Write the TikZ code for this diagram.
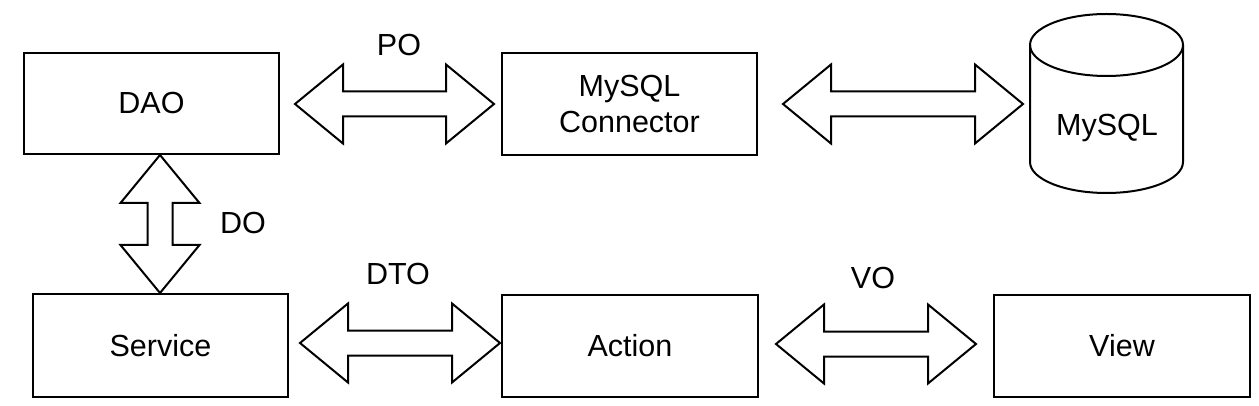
\documentclass[tikz,border=0pt]{standalone}
\usepackage{fontspec}
\setmainfont{Liberation Sans}
\usetikzlibrary{calc}
\tikzset{
  box/.style={draw, line width=2pt, inner sep=0pt, align=center},
  lbl/.style={inner sep=0pt, align=center},
  fat/.style={draw, line width=2pt, line join=miter, fill=white},
}
\newcommand\hdbl[2]{%
  \draw[fat] (#1) -- ($(#1)+(48,-39.5)$) -- ($(#1)+(48,-12.5)$) -- ($(#2)+(-48,-12.5)$) -- ($(#2)+(-48,-39.5)$) -- (#2)
   -- ($(#2)+(-48,39.5)$) -- ($(#2)+(-48,12.5)$) -- ($(#1)+(48,12.5)$) -- ($(#1)+(48,39.5)$) -- cycle;}
\newcommand\vdbl[2]{%
  \draw[fat] (#1) -- ($(#1)+(39.5,48)$) -- ($(#1)+(12.5,48)$) -- ($(#2)+(12.5,-48)$) -- ($(#2)+(39.5,-48)$) -- (#2)
   -- ($(#2)+(-39.5,-48)$) -- ($(#2)+(-12.5,-48)$) -- ($(#1)+(-12.5,48)$) -- ($(#1)+(-39.5,48)$) -- cycle;}
\begin{document}
\begin{tikzpicture}[x=1pt, y=-1pt, font=\fontsize{30.5}{36}\selectfont]
\useasboundingbox (0,0) rectangle (1259,406);
% boxes
\node[box, minimum width=255pt, minimum height=101pt] (dao) at (151.5,103.5) {DAO};
\node[box, minimum width=255pt, minimum height=102pt] (conn) at (629.5,104) {MySQL\\Connector};
\node[box, minimum width=255pt, minimum height=103pt] (service) at (160.5,345.5) {Service};
\node[box, minimum width=256pt, minimum height=102pt] (action) at (630,346) {Action};
\node[box, minimum width=256pt, minimum height=102pt] (view) at (1122,346) {View};
% cylinder
\draw[line width=2pt] (1030,45) -- (1030,162) arc[start angle=180, end angle=360, x radius=76.5pt, y radius=31pt] -- (1183,45);
\draw[line width=2pt] (1106.5,45) ellipse [x radius=76.5pt, y radius=31pt];
\node[lbl] (mysql) at (1107,128) {MySQL};
% arrow end points
\coordinate (po1) at (295,104);
\coordinate (po2) at (494,104);
\coordinate (db1) at (783,104);
\coordinate (db2) at (1023,104);
\coordinate (do1) at (160,155);
\coordinate (do2) at (160,293);
\coordinate (dto1) at (300,343);
\coordinate (dto2) at (500,343);
\coordinate (vo1) at (776,344);
\coordinate (vo2) at (976,344);
\hdbl{po1}{po2}
\hdbl{db1}{db2}
\vdbl{do1}{do2}
\hdbl{dto1}{dto2}
\hdbl{vo1}{vo2}
% labels
\node[lbl] (lpo) at (399,45) {PO};
\node[lbl] (ldo) at (243,223) {DO};
\node[lbl] (ldto) at (398,274) {DTO};
\node[lbl] (lvo) at (873,278) {VO};
\end{tikzpicture}
\end{document}
